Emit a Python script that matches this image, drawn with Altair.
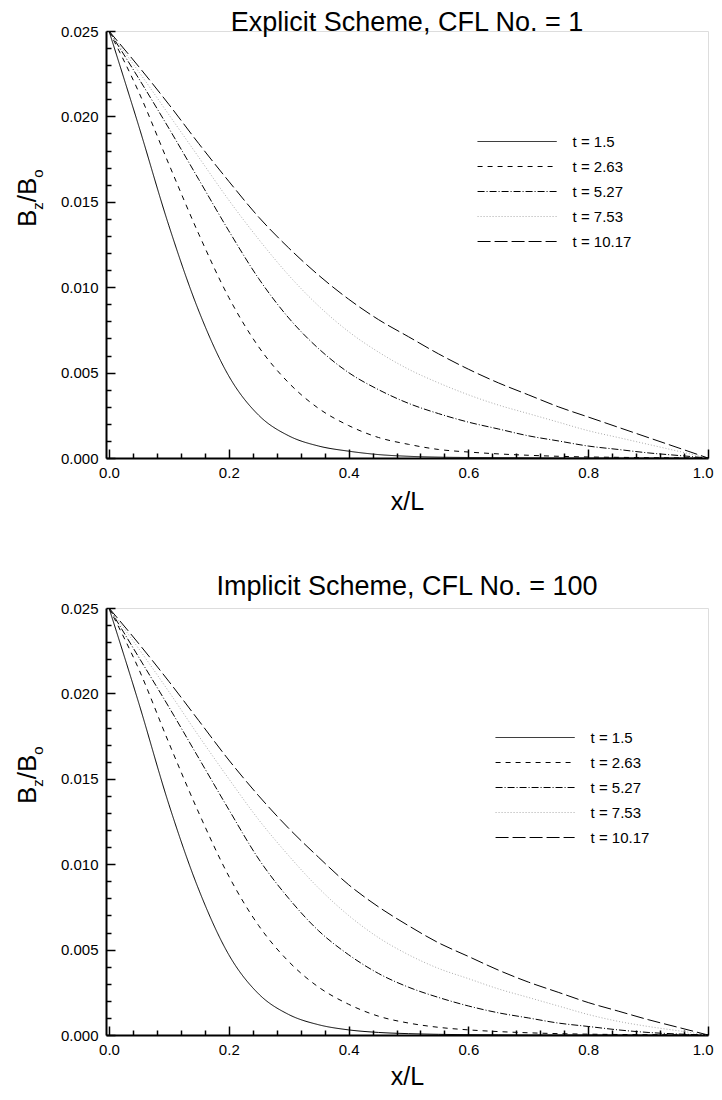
import altair as alt
import pandas as pd

# ---------------- data ----------------
X = [0.00, 0.05, 0.10, 0.15, 0.20, 0.25, 0.30, 0.35, 0.40, 0.45, 0.50,
     0.55, 0.60, 0.65, 0.70, 0.75, 0.80, 0.85, 0.90, 0.95, 1.00]

SERIES = ["t = 1.5", "t = 2.63", "t = 5.27", "t = 7.53", "t = 10.17"]

# Explicit scheme, CFL = 1
EXP_T1 = [0.0250, 0.0194, 0.0136, 0.0086, 0.0048, 0.0025, 0.0013, 0.0007, 0.0004, 0.0002, 0.0001,
          0.00005, 0.00003, 0.00002, 0.00001, 0.0, 0.0, 0.0, 0.0, 0.0, 0.0]
EXP_T2 = [0.0250, 0.0214, 0.0172, 0.0131, 0.0094, 0.0065, 0.0044, 0.0029, 0.0019, 0.0012, 0.0008,
          0.0005, 0.00035, 0.00024, 0.00016, 0.0001, 0.00006, 0.00004, 0.00002, 0.00001, 0.0]
EXP_T3 = [0.0250, 0.0222, 0.0193, 0.0163, 0.0133, 0.0105, 0.0082, 0.0064, 0.0050, 0.0040, 0.0032,
          0.0026, 0.0021, 0.0017, 0.0013, 0.0010, 0.0007, 0.0005, 0.0003, 0.00015, 0.0]
EXP_T4 = [0.0250, 0.0226, 0.0201, 0.0176, 0.0151, 0.0128, 0.0107, 0.0089, 0.0074, 0.0062, 0.0052,
          0.0044, 0.0037, 0.0031, 0.0026, 0.0021, 0.0016, 0.0012, 0.0008, 0.0004, 0.0]
EXP_T5 = [0.0250, 0.0229, 0.0207, 0.0184, 0.0162, 0.0141, 0.0123, 0.0107, 0.0093, 0.0081, 0.0071,
          0.0061, 0.0052, 0.0044, 0.0037, 0.0030, 0.0024, 0.0018, 0.0012, 0.0006, 0.0]

# Implicit scheme, CFL = 100
IMP_T1 = [0.0250, 0.0194, 0.0135, 0.0085, 0.0047, 0.0024, 0.0012, 0.0006, 0.0003, 0.00015, 0.00008,
          0.00004, 0.00002, 0.00001, 0.0, 0.0, 0.0, 0.0, 0.0, 0.0, 0.0]
IMP_T2 = [0.0250, 0.0214, 0.0171, 0.0130, 0.0093, 0.0064, 0.0043, 0.0028, 0.0018, 0.0011, 0.0007,
          0.00045, 0.0003, 0.0002, 0.00013, 0.00008, 0.00005, 0.00003, 0.00002, 0.00001, 0.0]
IMP_T3 = [0.0250, 0.0221, 0.0192, 0.0162, 0.0132, 0.0103, 0.0080, 0.0061, 0.0047, 0.0036, 0.0028,
          0.0022, 0.0017, 0.0013, 0.0010, 0.0007, 0.0005, 0.0003, 0.00015, 0.00006, 0.0]
IMP_T4 = [0.0250, 0.0226, 0.0201, 0.0175, 0.0150, 0.0126, 0.0105, 0.0086, 0.0070, 0.0057, 0.0047,
          0.0039, 0.0033, 0.0027, 0.0022, 0.0017, 0.0012, 0.0008, 0.0005, 0.00025, 0.0]
IMP_T5 = [0.0250, 0.0229, 0.0207, 0.0184, 0.0161, 0.0140, 0.0121, 0.0104, 0.0088, 0.0075, 0.0064,
          0.0054, 0.0046, 0.0038, 0.0031, 0.0025, 0.0019, 0.0014, 0.0009, 0.00045, 0.0]

X_MAJOR = [0.0, 0.2, 0.4, 0.6, 0.8, 1.0]
X_MINOR = [0.04, 0.08, 0.12, 0.16, 0.24, 0.28, 0.32, 0.36, 0.44, 0.48, 0.52, 0.56,
           0.64, 0.68, 0.72, 0.76, 0.84, 0.88, 0.92, 0.96]
Y_MAJOR = [0.0, 0.005, 0.010, 0.015, 0.020, 0.025]
Y_MINOR = [0.001, 0.002, 0.003, 0.004, 0.006, 0.007, 0.008, 0.009, 0.011, 0.012, 0.013,
           0.014, 0.016, 0.017, 0.018, 0.019, 0.021, 0.022, 0.023, 0.024]

# ---------------- styling ----------------
FONT = "Liberation Sans"
W, H = 602, 427
DASHES = [[1, 0], [5, 5], [7, 2, 1, 2], [1, 2], [13, 4]]
COLORS = ["black", "black", "black", "#aaaaaa", "black"]


def long_table(series_lists):
    rows = []
    for name, vals in zip(SERIES, series_lists):
        for xv, bv in zip(X, vals):
            rows.append({"x": xv, "B": bv, "series": name})
    return pd.DataFrame(rows)


def panel(df, title, lx, ly, title_offset, xtitle_pad):
    xs = alt.Scale(domain=[-0.005, 1.0], nice=False, zero=False)
    ys = alt.Scale(domain=[0.0, 0.025], nice=False)
    base = alt.Chart(df)

    leg = dict(title=None, orient="none", legendX=lx, legendY=ly,
               symbolType="M-5,0H5", symbolSize=250, symbolStrokeWidth=1,
               labelFont=FONT, labelFontSize=15, labelColor="black",
               labelOffset=47, rowPadding=8, padding=0)

    lines = base.mark_line(strokeWidth=1, interpolate="monotone").encode(
        x=alt.X("x:Q", scale=xs, axis=alt.Axis(
            orient="bottom", values=X_MAJOR, format=".1f", ticks=False, grid=False,
            labelFlush=1, labelFlushOffset=5,
            domainColor="black", domainWidth=2, labelFont=FONT, labelFontSize=15,
            labelColor="black", labelPadding=7, title="x/L", titleFont=FONT,
            titleFontSize=25, titleFontWeight="normal", titleColor="black",
            titlePadding=xtitle_pad)),
        y=alt.Y("B:Q", scale=ys, axis=alt.Axis(
            orient="left", values=Y_MAJOR, format=".3f", ticks=False, grid=False,
            labelFlush=False,
            domainColor="black", domainWidth=2, labelFont=FONT, labelFontSize=15,
            labelColor="black", labelPadding=8, title=None)),
        strokeDash=alt.StrokeDash("series:N", scale=alt.Scale(domain=SERIES, range=DASHES),
                                  legend=alt.Legend(**leg)),
        color=alt.Color("series:N", scale=alt.Scale(domain=SERIES, range=COLORS),
                        legend=alt.Legend(**leg)),
    )

    def tick_layer(xv, yv, size):
        return base.mark_line(strokeOpacity=0).encode(
            x=alt.X("x:Q", scale=xs, axis=alt.Axis(
                orient="top", offset=-H, values=xv, labels=False, domain=False,
                grid=False, tickSize=size, tickWidth=1.5, tickColor="black", title=None)),
            y=alt.Y("B:Q", scale=ys, axis=alt.Axis(
                orient="right", offset=-W, values=yv, labels=False, domain=False,
                grid=False, tickSize=size, tickWidth=1.5, tickColor="black", title=None)),
        )

    major = tick_layer(X_MAJOR, Y_MAJOR, 9)
    minor = tick_layer(X_MINOR, Y_MINOR, 5)

    # y-axis title  B_z / B_o  (rotated, with subscripts)
    pieces = [("B", 26, -70, 196), ("z", 15, -63, 178.7), ("/", 26, -70, 171.2),
              ("B", 26, -70, 164), ("o", 15, -63, 146.7)]
    ttl = []
    for txt, fs, px, py in pieces:
        ttl.append(alt.Chart(pd.DataFrame({"s": [txt]})).mark_text(
            angle=270, align="left", baseline="alphabetic", font=FONT,
            fontSize=fs, color="black").encode(
            text="s:N", x=alt.value(px), y=alt.value(py)))

    return alt.layer(lines, major, minor, *ttl).resolve_axis(
        x="independent", y="independent").properties(
        width=W, height=H,
        title=alt.TitleParams(title, font=FONT, fontSize=27, fontWeight="normal",
                              color="black", frame="group", anchor="middle",
                              offset=title_offset))


top = panel(long_table([EXP_T1, EXP_T2, EXP_T3, EXP_T4, EXP_T5]),
            "Explicit Scheme, CFL No. = 1", 402.6, 102, -13, 9)
bottom = panel(long_table([IMP_T1, IMP_T2, IMP_T3, IMP_T4, IMP_T5]),
               "Implicit Scheme, CFL No. = 100", 420.6, 121, 0, 7)

chart = alt.vconcat(top, bottom, spacing=57).resolve_scale(
    strokeDash="independent", color="independent").properties(
    padding={"left": 6, "top": 0, "right": 0, "bottom": -1}
).configure_view(stroke=None).configure(background="white")

chart.save("out.html", embed_options={"renderer": "svg", "actions": False})
